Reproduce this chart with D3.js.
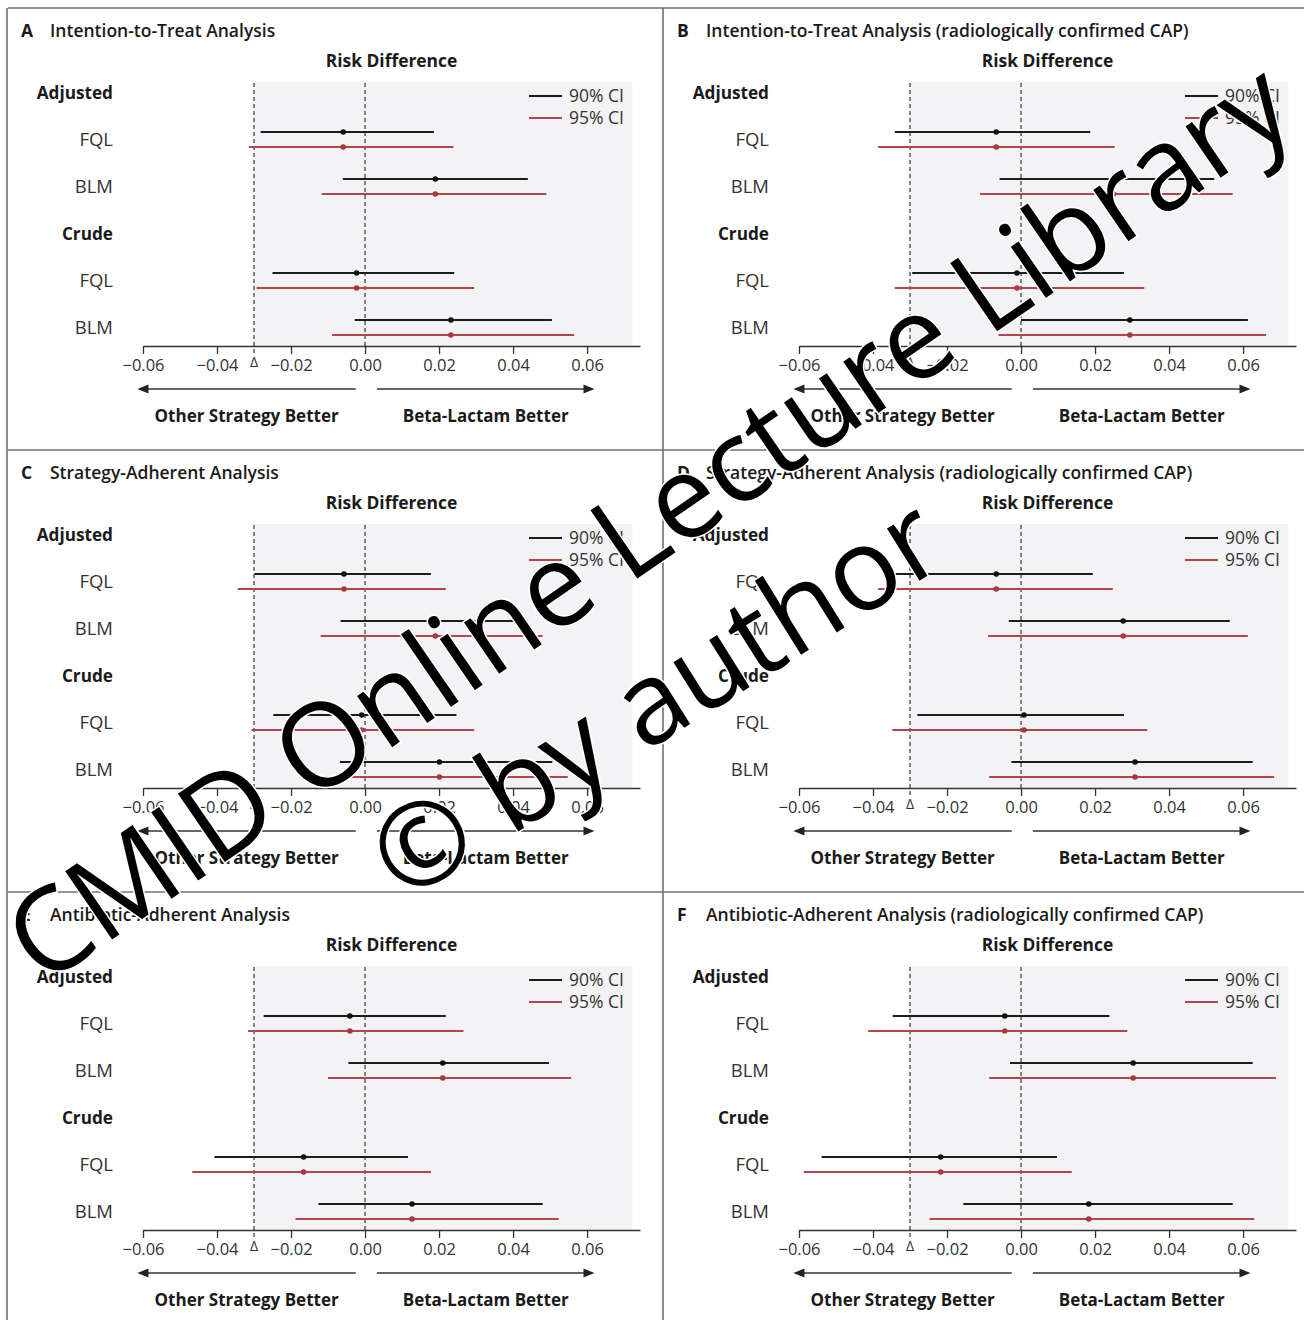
<!DOCTYPE html>
<html>
<head>
<meta charset="utf-8">
<script src="https://cdn.jsdelivr.net/npm/d3@7"></script>
<style>
  html, body { margin: 0; padding: 0; background: #fff; }
  svg { display: block; }
  text { font-family: "Open Sans", Lato, sans-serif; }
</style>
</head>
<body>
<svg id="chart" width="1304" height="1320"></svg>
<script>
// ---------------- DATA ----------------
const panelLetters = ["A", "B", "C", "D", "E", "F"];
const panelTitles = [
  "Intention-to-Treat Analysis",
  "Intention-to-Treat Analysis (radiologically confirmed CAP)",
  "Strategy-Adherent Analysis",
  "Strategy-Adherent Analysis (radiologically confirmed CAP)",
  "Antibiotic-Adherent Analysis",
  "Antibiotic-Adherent Analysis (radiologically confirmed CAP)"
];
// row layout: header, item, item, header, item, item
const rowLabels = ["Adjusted", "FQL", "BLM", "Crude", "FQL", "BLM"];
const rowIsHeader = [true, false, false, true, false, false];
// data rows (Adjusted FQL, Adjusted BLM, Crude FQL, Crude BLM) -> row index
const dataRowIndex = [1, 2, 4, 5];

// point estimates, per panel A..F
const pointEst = [
  [-0.0059, 0.0190, -0.0023, 0.0232],
  [-0.0067, 0.0250, -0.0011, 0.0294],
  [-0.0057, 0.0190, -0.0009, 0.0201],
  [-0.0067, 0.0276, 0.0008, 0.0308],
  [-0.0041, 0.0210, -0.0166, 0.0127],
  [-0.0044, 0.0303, -0.0217, 0.0183]
];
const lower90 = [
  [-0.0282, -0.0060, -0.0250, -0.0028],
  [-0.0341, -0.0058, -0.0294, 0.0000],
  [-0.0299, -0.0066, -0.0248, -0.0068],
  [-0.0341, -0.0033, -0.0280, -0.0026],
  [-0.0274, -0.0045, -0.0407, -0.0126],
  [-0.0347, -0.0030, -0.0539, -0.0156]
];
const upper90 = [
  [0.0186, 0.0440, 0.0241, 0.0505],
  [0.0187, 0.0522, 0.0278, 0.0613],
  [0.0178, 0.0438, 0.0247, 0.0506],
  [0.0194, 0.0564, 0.0278, 0.0626],
  [0.0218, 0.0497, 0.0116, 0.0480],
  [0.0239, 0.0626, 0.0097, 0.0572]
];
const lower95 = [
  [-0.0314, -0.0117, -0.0293, -0.0089],
  [-0.0386, -0.0111, -0.0341, -0.0061],
  [-0.0344, -0.0120, -0.0307, -0.0114],
  [-0.0386, -0.0089, -0.0348, -0.0086],
  [-0.0316, -0.0100, -0.0467, -0.0188],
  [-0.0413, -0.0086, -0.0587, -0.0247]
];
const upper95 = [
  [0.0239, 0.0490, 0.0295, 0.0565],
  [0.0253, 0.0572, 0.0333, 0.0662],
  [0.0218, 0.0480, 0.0295, 0.0548],
  [0.0248, 0.0613, 0.0341, 0.0684],
  [0.0266, 0.0557, 0.0178, 0.0523],
  [0.0287, 0.0689, 0.0137, 0.0630]
];
const tickValues = [-0.06, -0.04, -0.02, 0.00, 0.02, 0.04, 0.06];
const marginDelta = -0.03;
const xDomain = [-0.06, 0.0743];
const legendLabels = ["90% CI", "95% CI"];
const arrowLeft = [-0.0025, -0.0615];
const arrowRight = [0.0032, 0.0620];
const directionLabels = ["Other Strategy Better", "Beta-Lactam Better"];
const axisTitle = "Risk Difference";
const watermarkLines = ["CMID Online Lecture Library", "\u00A9 by author"];

// ---------------- STYLE ----------------
const C90 = "#1c1c1c";
const C95 = "#b4464a";
const BORDER = "#707070";
const PW = 656, PH = 442;

const svg = d3.select("#chart");

// frame lines
const frame = svg.append("g").attr("stroke", BORDER).attr("stroke-width", 1.6);
frame.append("line").attr("x1", 8).attr("x2", 1304).attr("y1", 8).attr("y2", 8);
frame.append("line").attr("x1", 7).attr("x2", 7).attr("y1", 8).attr("y2", 1320);
frame.append("line").attr("x1", 663).attr("x2", 663).attr("y1", 8).attr("y2", 1320);
frame.append("line").attr("x1", 8).attr("x2", 1304).attr("y1", 8 + PH).attr("y2", 8 + PH);
frame.append("line").attr("x1", 8).attr("x2", 1304).attr("y1", 8 + 2 * PH).attr("y2", 8 + 2 * PH);

panelLetters.forEach((letter, p) => {
  const col = p % 2, row = Math.floor(p / 2);
  const ox = col * PW, oy = row * PH;
  const g = svg.append("g");

  const x = d3.scaleLinear().domain(xDomain).range([ox + 143, ox + 640]);
  const y = d3.scalePoint().domain(d3.range(rowLabels.length)).range([oy + 92, oy + 327]);
  const axisY = oy + 346;
  const topY = oy + 83;

  // shaded plot region
  g.append("rect")
    .attr("x", x(marginDelta)).attr("y", topY - 1)
    .attr("width", x(0.0722) - x(marginDelta)).attr("height", axisY - topY + 1)
    .attr("fill", "#f3f3f6");

  // title
  g.append("text").attr("x", ox + 21).attr("y", oy + 37)
    .attr("font-size", 17.5).attr("font-weight", 700).attr("fill", "#1a1a1a").text(letter);
  g.append("text").attr("x", ox + 50).attr("y", oy + 37)
    .attr("font-size", 17.5).attr("font-weight", 600).attr("fill", "#1a1a1a").text(panelTitles[p]);

  // axis title
  g.append("text").attr("x", (x.range()[0] + x.range()[1]) / 2).attr("y", oy + 67)
    .attr("text-anchor", "middle").attr("font-size", 17.4).attr("font-weight", 700)
    .attr("fill", "#1a1a1a").text(axisTitle);

  // row labels
  rowLabels.forEach((lab, i) => {
    g.append("text").attr("x", ox + 113).attr("y", y(i) + 6.5)
      .attr("text-anchor", "end")
      .attr("font-size", rowIsHeader[i] ? 17.2 : 18.5)
      .attr("font-weight", rowIsHeader[i] ? 700 : 400)
      .attr("fill", rowIsHeader[i] ? "#1a1a1a" : "#333")
      .text(lab);
  });

  // reference dashed lines
  g.append("line").attr("x1", x(marginDelta)).attr("x2", x(marginDelta))
    .attr("y1", topY).attr("y2", axisY + 9)
    .attr("stroke", "#333").attr("stroke-width", 1.2).attr("stroke-dasharray", "4,3");
  g.append("line").attr("x1", x(0)).attr("x2", x(0))
    .attr("y1", topY).attr("y2", axisY)
    .attr("stroke", "#333").attr("stroke-width", 1.2).attr("stroke-dasharray", "4,3");

  // CIs
  dataRowIndex.forEach((ri, k) => {
    const y90 = y(ri) - 7, y95 = y(ri) + 8;
    g.append("line").attr("x1", x(lower90[p][k])).attr("x2", x(upper90[p][k]))
      .attr("y1", y90).attr("y2", y90).attr("stroke", C90).attr("stroke-width", 2);
    g.append("line").attr("x1", x(lower95[p][k])).attr("x2", x(upper95[p][k]))
      .attr("y1", y95).attr("y2", y95).attr("stroke", C95).attr("stroke-width", 2);
    g.append("circle").attr("cx", x(pointEst[p][k])).attr("cy", y90).attr("r", 2.8).attr("fill", "#111");
    g.append("circle").attr("cx", x(pointEst[p][k])).attr("cy", y95).attr("r", 2.8).attr("fill", "#a8383c");
  });

  // legend
  [C90, C95].forEach((c, i) => {
    const ly = oy + 96 + i * 22;
    g.append("line").attr("x1", ox + 529).attr("x2", ox + 562).attr("y1", ly).attr("y2", ly)
      .attr("stroke", c).attr("stroke-width", 2);
    g.append("text").attr("x", ox + 569).attr("y", ly + 6)
      .attr("font-size", 17.5).attr("fill", "#333").text(legendLabels[i]);
  });

  // axis
  const axis = d3.axisBottom(x).tickValues(tickValues).tickSize(8).tickSizeOuter(0)
    .tickPadding(5).tickFormat(d3.format(".2f"));
  const ag = g.append("g").attr("transform", `translate(0,${axisY})`).call(axis);
  ag.select(".domain").attr("stroke", "#333").attr("stroke-width", 1.5);
  ag.selectAll(".tick line").attr("stroke", "#333").attr("stroke-width", 1.3);
  ag.selectAll(".tick text").attr("font-size", 16.5).attr("fill", "#333")
    .attr("font-family", "'Open Sans', Lato, sans-serif");

  // delta label
  g.append("text").attr("x", x(marginDelta)).attr("y", axisY + 21)
    .attr("text-anchor", "middle").attr("font-size", 14).attr("fill", "#333").text("\u0394");

  // arrows
  const ay = oy + 389;
  const drawArrow = (from, to) => {
    const x1 = x(from), x2 = x(to);
    const dir = Math.sign(x2 - x1);
    g.append("line").attr("x1", x1).attr("x2", x2 - dir * 6).attr("y1", ay).attr("y2", ay)
      .attr("stroke", "#333").attr("stroke-width", 1.4);
    g.append("path")
      .attr("d", `M${x2},${ay} L${x2 - dir * 11},${ay - 4.5} L${x2 - dir * 11},${ay + 4.5} Z`)
      .attr("fill", "#222");
  };
  drawArrow(arrowLeft[0], arrowLeft[1]);
  drawArrow(arrowRight[0], arrowRight[1]);

  g.append("text").attr("x", x((arrowLeft[0] + arrowLeft[1]) / 2)).attr("y", oy + 422)
    .attr("text-anchor", "middle").attr("font-size", 17).attr("font-weight", 700)
    .attr("fill", "#1a1a1a").text(directionLabels[0]);
  g.append("text").attr("x", x((arrowRight[0] + arrowRight[1]) / 2)).attr("y", oy + 422)
    .attr("text-anchor", "middle").attr("font-size", 17).attr("font-weight", 700)
    .attr("fill", "#1a1a1a").text(directionLabels[1]);
});

// watermark
const wm = svg.append("g").attr("pointer-events", "none");
[[648, 522, -34.5, 116], [656, 698, -32, 115]].forEach((pos, i) => {
  wm.append("text")
    .attr("transform", `translate(${pos[0]},${pos[1]}) rotate(${pos[2]})`)
    .attr("text-anchor", "middle").attr("dy", "0.35em")
    .attr("font-family", "'Liberation Sans', Arial, sans-serif")
    .attr("font-size", pos[3])
    .attr("fill", "#000").attr("stroke", "#fff").attr("stroke-width", 3)
    .attr("paint-order", "stroke")
    .text(watermarkLines[i]);
});
</script>
</body>
</html>
